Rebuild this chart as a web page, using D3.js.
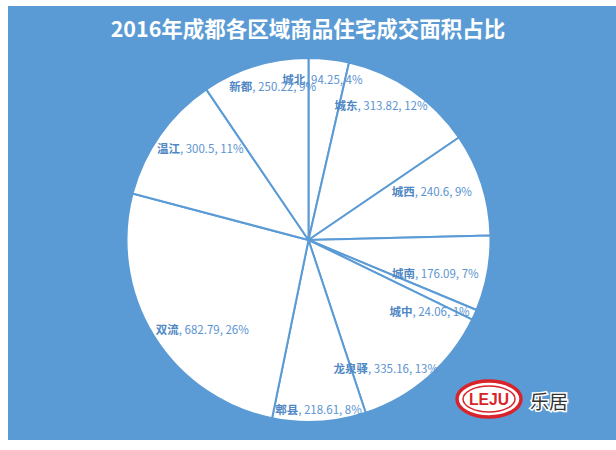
<!DOCTYPE html>
<html><head><meta charset="utf-8">
<script src="https://cdn.jsdelivr.net/npm/d3@7/dist/d3.min.js"></script>
<style>body{margin:0;background:#fff}svg{display:block}</style>
</head><body>
<svg id="c" width="616" height="450"></svg>
<script>
const title = "2016年成都各区域商品住宅成交面积占比";
const categories = ["城北","城东","城西","城南","城中","龙泉驿","郫县","双流","温江","新都"];
const values = [94.25, 313.82, 240.6, 176.09, 24.06, 335.16, 218.61, 682.79, 300.5, 250.22];
const percents = ["4%","12%","9%","7%","1%","13%","8%","26%","11%","9%"];

// layout: label placement (radius fraction, angle nudge in degrees)
const labelPlace = [[0.89,-1.5],[0.84,-6],[0.73,-4],[0.72,4],[0.77,6],[0.82,10],[0.93,0],[0.76,-8],[0.78,5],[0.87,4]];

const W=616,H=450, blue="#5b9bd5";
const svg=d3.select("#c");
svg.append("rect").attr("x",8).attr("y",6).attr("width",W-8).attr("height",434).attr("fill",blue);
svg.append("text").attr("x",308).attr("y",37).attr("text-anchor","middle")
  .attr("font-family","'Noto Sans CJK SC','Noto Sans',sans-serif").attr("font-weight","bold")
  .attr("font-size",21.5).attr("fill","#fff").text(title);

const cx=308.5, cy=240, R=182;
const g=svg.append("g").attr("transform",`translate(${cx},${cy})`);
const data=categories.map((c,i)=>({c,v:values[i],p:percents[i],i}));
const pie=d3.pie().value(d=>d.v).sort(null);
const arcs=pie(data);
const arc=d3.arc().innerRadius(0).outerRadius(R);
g.selectAll("path").data(arcs).join("path").attr("d",arc)
  .attr("fill","#fff").attr("stroke",blue).attr("stroke-width",2).attr("stroke-linejoin","round");

const lab=g.selectAll("text.l").data(arcs).join("text").attr("class","l")
  .attr("font-family","'Noto Sans CJK SC','Noto Sans',sans-serif").attr("font-size",11.5)
  .attr("text-anchor","middle").attr("dominant-baseline","central").attr("fill","#5b93d0")
  .attr("transform",d=>{
    const lp=labelPlace[d.data.i];
    const a=(d.startAngle+d.endAngle)/2 + lp[1]*Math.PI/180;
    const r=R*lp[0];
    return `translate(${r*Math.sin(a)},${-r*Math.cos(a)})`;
  });
lab.append("tspan").attr("font-weight","bold").attr("fill","#4f87c4").text(d=>d.data.c);
lab.append("tspan").text(d=>`, ${d.data.v}, ${d.data.p}`);

// logo
const lg=svg.append("g").attr("transform","translate(489,399)");
lg.append("ellipse").attr("rx",32).attr("ry",18).attr("fill","#fff").attr("stroke","#d9232b").attr("stroke-width",3.5);
lg.append("ellipse").attr("rx",26).attr("ry",13).attr("fill","none").attr("stroke","#d9232b").attr("stroke-width",1.5);
lg.append("text").attr("text-anchor","middle").attr("dominant-baseline","central")
  .attr("font-family","'Liberation Sans',sans-serif").attr("font-weight","bold").attr("font-size",17)
  .attr("fill","#d9232b").attr("textLength",40).attr("lengthAdjust","spacingAndGlyphs").text("LEJU");
svg.append("text").attr("x",530).attr("y",400).attr("dominant-baseline","central")
  .attr("font-family","'Noto Sans CJK SC',sans-serif").attr("font-size",19)
  .attr("fill","#333").attr("stroke","#fff").attr("stroke-width",3).attr("paint-order","stroke").text("乐居");
</script>
</body></html>
